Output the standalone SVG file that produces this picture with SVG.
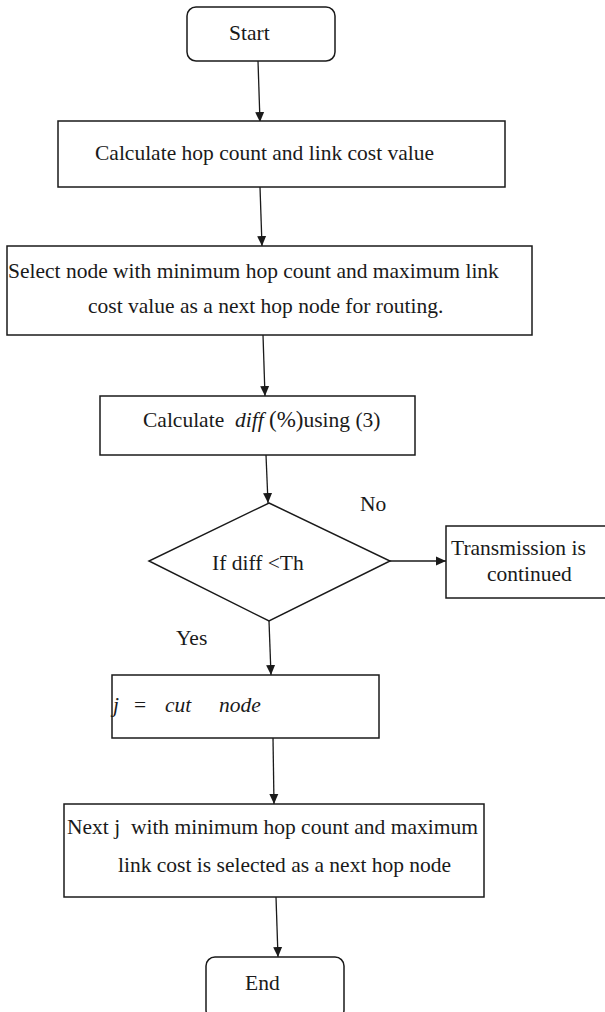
<svg xmlns="http://www.w3.org/2000/svg" width="605" height="1012" viewBox="0 0 605 1012">
<style>
.box{fill:#fff;stroke:#1a1a1a;stroke-width:1.5}
.t{font-family:"Liberation Serif","Times New Roman",serif;font-size:21.5px;fill:#1a1a1a}
.i{font-style:italic}
.ln{stroke:#1a1a1a;stroke-width:1.3;fill:none;marker-end:url(#ah)}
</style>
<defs>
<marker id="ah" viewBox="0 0 10 10" refX="10" refY="5" markerWidth="10" markerHeight="10" markerUnits="userSpaceOnUse" orient="auto">
<path d="M0,0.5 L10,5 L0,9.5 Z" fill="#1a1a1a"/>
</marker>
</defs>
<rect width="605" height="1012" fill="#fff"/>
<g id="connectors">
<line class="ln" x1="258" y1="61" x2="260" y2="122"/>
<line class="ln" x1="260" y1="187" x2="262" y2="246"/>
<line class="ln" x1="263" y1="335" x2="265" y2="396"/>
<line class="ln" x1="266" y1="455" x2="268" y2="503"/>
<line class="ln" x1="390" y1="561" x2="446" y2="561"/>
<line class="ln" x1="269" y1="621" x2="271" y2="675"/>
<line class="ln" x1="273" y1="738" x2="274" y2="804"/>
<line class="ln" x1="276" y1="897" x2="278" y2="957"/>
<text class="t" x="360" y="511" font-size="21">No</text>
<text class="t" x="176" y="645" font-size="21">Yes</text>
</g>
<g id="start">
<rect class="box" x="187" y="7" width="148" height="54" rx="9"/>
<text class="t" x="229" y="40" font-size="21">Start</text>
</g>
<g id="calc-hop">
<rect class="box" x="58" y="121" width="447" height="66"/>
<text class="t" x="95" y="160" font-size="21.9">Calculate hop count and link cost value</text>
</g>
<g id="select-node">
<rect class="box" x="7" y="246" width="525" height="89"/>
<text class="t" x="8" y="278" font-size="22.2">Select node with minimum hop count and maximum link</text>
<text class="t" x="88" y="313" font-size="22.2">cost value as a next hop node for routing.</text>
</g>
<g id="calc-diff">
<rect class="box" x="100" y="396" width="315" height="59"/>
<text class="t" x="143" y="427" font-size="21" xml:space="preserve">Calculate  <tspan class="i">diff</tspan> <tspan font-size="23">(%)</tspan>using (3)</text>
</g>
<g id="decision">
<polygon class="box" points="269,503 390,561 269,621 149,561"/>
<text class="t" x="212" y="570" font-size="21">If diff &lt;Th</text>
</g>
<g id="transmission">
<rect class="box" x="446" y="526" width="160" height="72"/>
<text class="t" x="451" y="555" font-size="21">Transmission is</text>
<text class="t" x="487" y="581" font-size="21">continued</text>
</g>
<g id="cut-node">
<rect class="box" x="112" y="675" width="267" height="63"/>
<text class="t i" y="712" font-size="21"><tspan x="113">j</tspan><tspan x="134" font-style="normal">=</tspan><tspan x="165">cut</tspan><tspan x="219">node</tspan></text>
</g>
<g id="next-j">
<rect class="box" x="64" y="804" width="420" height="93"/>
<text class="t" x="67" y="834" font-size="21.5" xml:space="preserve">Next j  with minimum hop count and maximum</text>
<text class="t" x="118" y="872" font-size="21.5">link cost is selected as a next hop node</text>
</g>
<g id="end">
<rect class="box" x="206" y="957" width="138" height="62" rx="9"/>
<text class="t" x="245" y="990" font-size="21">End</text>
</g>
</svg>
